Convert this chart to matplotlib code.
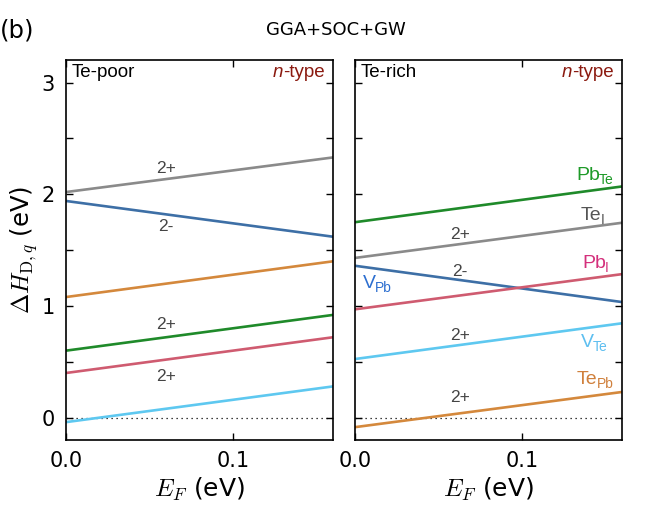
import matplotlib
matplotlib.use("Agg")
import matplotlib.pyplot as plt
from matplotlib.ticker import MultipleLocator, FormatStrFormatter

plt.rcParams['mathtext.fontset'] = 'cm'
plt.rcParams['font.family'] = ['DejaVu Sans']

ef = [0.0, 0.16]

# Te-poor panel (values at EF = 0 and EF = 0.16 eV)
poor_vals = {
    "Te_I": [2.02, 2.33],
    "V_Pb": [1.94, 1.62],
    "Te_Pb": [1.08, 1.40],
    "Pb_Te": [0.60, 0.92],
    "Pb_I": [0.40, 0.72],
    "V_Te": [-0.04, 0.28],
}
poor_charge_labels = [("2+", 0.060, 2.235), ("2-", 0.060, 1.71),
                      ("2+", 0.060, 0.83), ("2+", 0.060, 0.37)]

# Te-rich panel
rich_vals = {
    "Pb_Te": [1.75, 2.07],
    "Te_I": [1.43, 1.745],
    "V_Pb": [1.36, 1.035],
    "Pb_I": [0.97, 1.285],
    "V_Te": [0.525, 0.845],
    "Te_Pb": [-0.085, 0.23],
}
rich_charge_labels = [("2+", 0.063, 1.64), ("2-", 0.063, 1.31),
                      ("2+", 0.063, 0.74), ("2+", 0.063, 0.18)]

# defect name labels: base, subscript, left x, baseline y
defect_labels = {
    "Pb_Te": ("Pb", "Te", 0.1326, 2.125),
    "Te_I": ("Te", "I", 0.1355, 1.774),
    "Pb_I": ("Pb", "I", 0.136, 1.337),
    "V_Pb": ("V", "Pb", 0.0046, 1.158),
    "V_Te": ("V", "Te", 0.1355, 0.637),
    "Te_Pb": ("Te", "Pb", 0.133, 0.30),
}

line_colors = {
    "Te_I": "#8a8a8a",
    "V_Pb": "#3d6fa6",
    "Te_Pb": "#d4883c",
    "Pb_Te": "#1f8a2a",
    "Pb_I": "#cf5b70",
    "V_Te": "#5ec8f0",
}
label_colors = {
    "Te_I": "#555555",
    "V_Pb": "#2d6fd0",
    "Te_Pb": "#d0803c",
    "Pb_Te": "#1e9a28",
    "Pb_I": "#d4307c",
    "V_Te": "#5ebff0",
}

fig = plt.figure(figsize=(6.71, 5.05), dpi=100)
axL = fig.add_axes([0.0984, 0.1287, 0.398, 0.752])
axR = fig.add_axes([0.529, 0.1287, 0.398, 0.752])

txtfont = ['Liberation Sans', 'DejaVu Sans']
ntype_texts = []

for ax, vals, clabels, cond in [(axL, poor_vals, poor_charge_labels, "Te-poor"),
                                (axR, rich_vals, rich_charge_labels, "Te-rich")]:
    ax.axhline(0, color='black', ls=(0, (1, 3)), lw=0.9, zorder=1)
    for k, v in vals.items():
        ax.plot(ef, v, color=line_colors[k], lw=1.9, solid_capstyle='butt', zorder=2)
    for t, x, y in clabels:
        ax.text(x, y, t, color='#444444', fontsize=12.5, ha='center', va='center',
                family=txtfont)
    ax.set_xlim(0, 0.16)
    ax.set_ylim(-0.2, 3.2)
    ax.xaxis.set_major_locator(MultipleLocator(0.1))
    ax.yaxis.set_major_locator(MultipleLocator(1))
    ax.yaxis.set_minor_locator(MultipleLocator(0.5))
    ax.tick_params(which='both', direction='in', top=True, right=True,
                   length=5, width=1.0, labelsize=15, pad=8)
    for s in ax.spines.values():
        s.set_linewidth(1.2)
    ax.xaxis.set_major_formatter(FormatStrFormatter('%.1f'))
    ax.text(0.02, 0.955, cond, transform=ax.transAxes, fontsize=13.5,
            ha='left', va='baseline', family=txtfont)
    t = ax.text(0.97, 0.955, "-type", transform=ax.transAxes, fontsize=13.5,
                ha='right', va='baseline', color='#8b1a10', family=txtfont)
    ntype_texts.append((ax, t))
    ax.set_xlabel("$E_F$ (eV)", fontsize=18, labelpad=3)

axR.set_yticklabels([])
axL.set_ylabel("$\\Delta H_{\\mathrm{D},q}$ (eV)", fontsize=17.5, labelpad=1)

base_texts = []
for k, (base, sub, x, y) in defect_labels.items():
    bt = axR.text(x, y, base, color=label_colors[k], fontsize=14,
                  ha='left', va='baseline', family=txtfont)
    base_texts.append((bt, sub, label_colors[k]))

fig.text(0.5, 0.94, "GGA+SOC+GW", fontsize=13, ha='center', va='center')
fig.text(0.0, 0.94, "(b)", fontsize=17.5, ha='left', va='center')

fig.canvas.draw()
renderer = fig.canvas.get_renderer()
for ax, t in ntype_texts:
    bb = t.get_window_extent(renderer)
    x0, _ = ax.transAxes.inverted().transform((bb.x0, bb.y0))
    ax.text(x0, 0.955, "n", transform=ax.transAxes, fontsize=13.5, style='italic',
            ha='right', va='baseline', color='#8b1a10', family=txtfont)
for bt, sub, col in base_texts:
    bb = bt.get_window_extent(renderer)
    xs, _ = axR.transData.inverted().transform((bb.x1 - 1.0, bb.y0))
    _, yb = bt.get_position()
    yd = axR.transData.inverted().transform((0, 0))[1] - axR.transData.inverted().transform((0, 4))[1]
    axR.text(xs, yb + yd, sub, color=col, fontsize=10, ha='left', va='baseline',
             family=txtfont)

fig.savefig("out.png", dpi=100)
